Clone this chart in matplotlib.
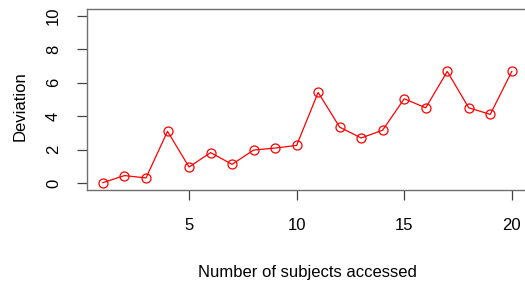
import matplotlib
matplotlib.use("Agg")
import matplotlib.pyplot as plt

# Values
subjects = list(range(1, 21))
deviation = [0.04, 0.46, 0.32, 3.1, 0.97, 1.83, 1.13, 1.98, 2.1, 2.26,
             5.42, 3.35, 2.7, 3.17, 5.04, 4.5, 6.67, 4.5, 4.11, 6.67]
x_ticks = [5, 10, 15, 20]
y_ticks = [0, 2, 4, 6, 8, 10]

plt.rcParams['font.family'] = ['Liberation Sans', 'DejaVu Sans']

fig = plt.figure(figsize=(5.25, 2.87), dpi=100)
ax = fig.add_axes([0.165, 0.338, 0.841, 0.631])

ax.plot(subjects, deviation, color='red', linewidth=0.9,
        marker='o', markersize=6.5, markerfacecolor='none',
        markeredgecolor='red', markeredgewidth=0.9)

ax.set_xlim(0.24, 20.76)
ax.set_ylim(-0.4, 10.4)
ax.set_xticks(x_ticks)
ax.set_yticks(y_ticks)
ax.set_yticklabels([str(v) for v in y_ticks], rotation=90, va='center')
ax.tick_params(axis='both', length=7.5, width=0.9, color='#444444',
               labelsize=12)
ax.tick_params(axis='x', pad=13)
ax.tick_params(axis='y', pad=11)

for spine in ax.spines.values():
    spine.set_color('#707070')
    spine.set_linewidth(1.0)

ax.set_xlabel("Number of subjects accessed", fontsize=12)
ax.xaxis.set_label_coords(0.5, -0.414)
ax.set_ylabel("Deviation", fontsize=12)
ax.yaxis.set_label_coords(-0.134, 0.465)

fig.savefig("out.png", dpi=100)
